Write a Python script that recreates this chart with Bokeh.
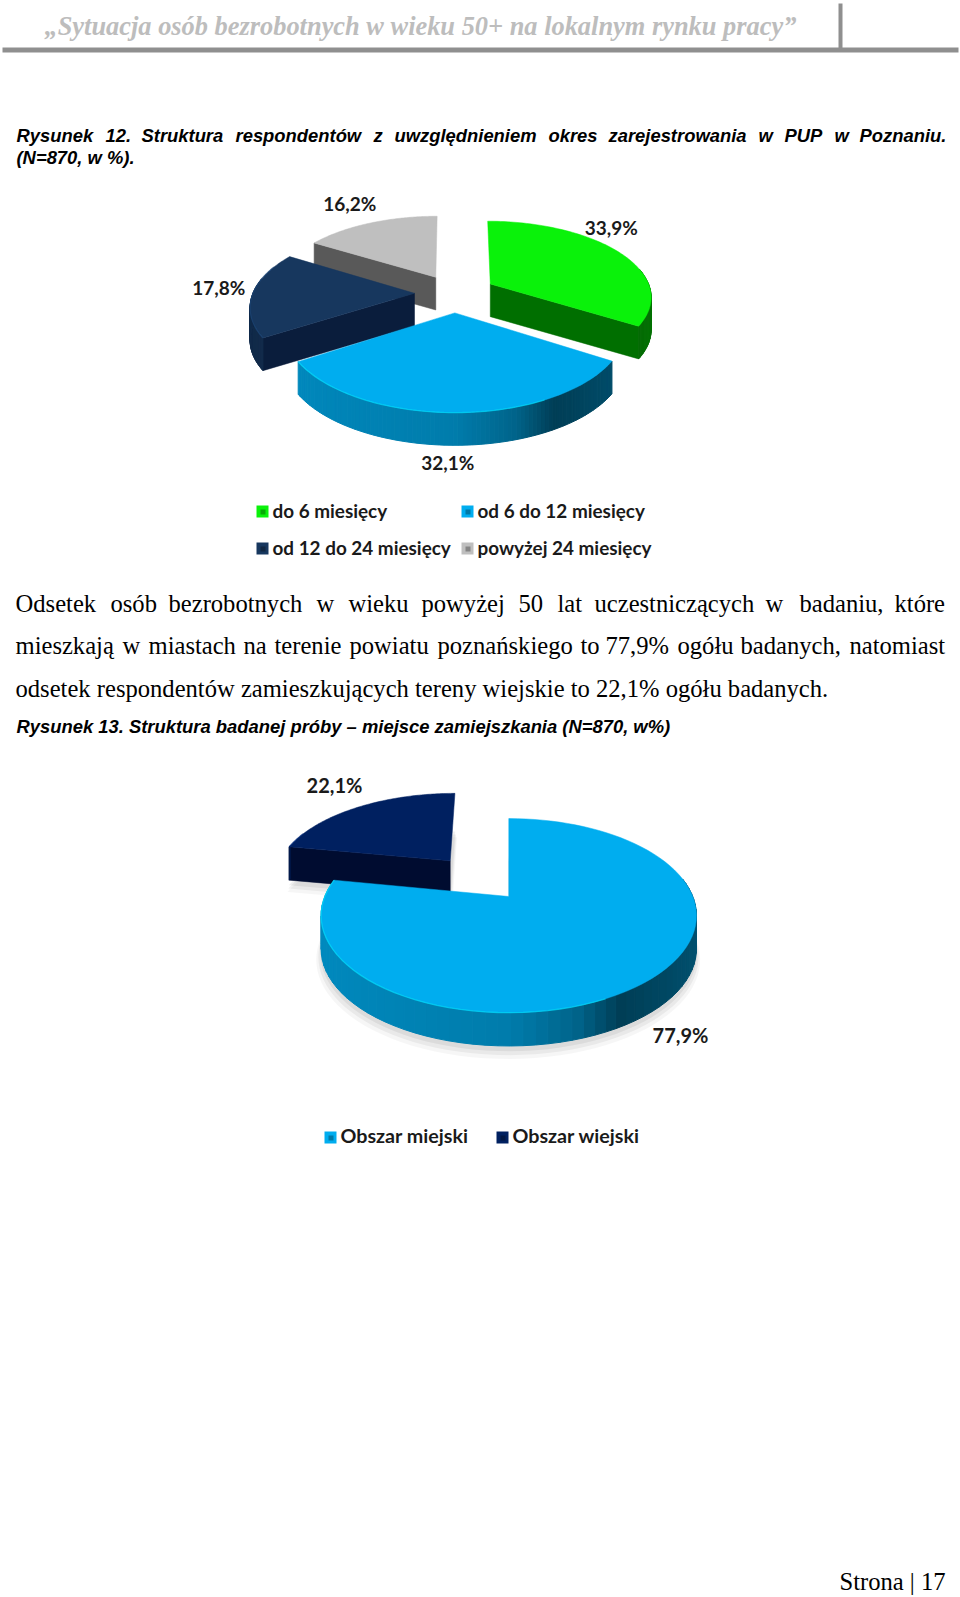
import numpy as np
from bokeh.plotting import figure
from bokeh.embed import file_html
from bokeh.resources import INLINE
from bokeh.core.properties import value

# ---------- data ----------
chart1_labels = ["do 6 miesięcy", "od 6 do 12 miesięcy", "od 12 do 24 miesięcy", "powyżej 24 miesięcy"]
chart1_values = [33.9, 32.1, 17.8, 16.2]
chart1_texts = ["33,9%", "32,1%", "17,8%", "16,2%"]
chart2_labels = ["Obszar miejski", "Obszar wiejski"]
chart2_values = [77.9, 22.1]
chart2_texts = ["77,9%", "22,1%"]

header_text = "„Sytuacja osób bezrobotnych w wieku 50+ na lokalnym rynku pracy”"
caption1_words = ["Rysunek", "12.", "Struktura", "respondentów", "z", "uwzględnieniem", "okres",
                  "zarejestrowania", "w", "PUP", "w", "Poznaniu."]
caption1_line2 = "(N=870, w %)."
body1_words = ["Odsetek", "osób", "bezrobotnych", "w", "wieku", "powyżej", "50", "lat",
               "uczestniczących", "w", "badaniu,", "które"]
body2_words = ["mieszkają", "w", "miastach", "na", "terenie", "powiatu", "poznańskiego", "to",
               "77,9%", "ogółu", "badanych,", "natomiast"]
body3_text = "odsetek respondentów zamieszkujących tereny wiejskie to 22,1% ogółu badanych."
caption2_text = "Rysunek 13. Struktura badanej próby – miejsce zamiejszkania (N=870, w%)"
footer_text = "Strona | 17"

# ---------- layout / style (page pixels) ----------
caption1_x = [16, 105, 141, 235, 373, 394, 548, 608, 758, 784, 834, 859]
body1_x = [15, 110, 168, 316, 348, 421, 518, 557, 594, 765, 799, 894]
body2_x = [15, 122, 148, 243, 274, 349, 437, 580, 605, 677, 740, 849]

BLUE = "#00adef"
style1 = dict(cx=454.2, cy=292.7, R=161.5, k=0.47, p=0.165, depth=32.7)
explode1 = [41.5, 40.2, 40.2, 40.2]
tops1 = ["#0af20a", BLUE, "#17375e", "#bfbfbf"]
faces1 = ["#006f00", "#005a85", "#0a1d3c", "#595959"]
order1 = [3, 0, 2, 1]

style2 = dict(cx=508.3, cy=896.0, R=184.0, k=0.507, p=0.197, depth=33.3)
explode2 = [0.0, 99.0]
tops2 = [BLUE, "#002060"]
faces2 = ["#005a85", "#000c30"]
order2 = [1, 0]

RIM_U = [-1.0, 0.0, 0.30, 0.50, 1.0]
RIM_F = [0.80, 0.72, 0.58, 0.36, 0.48]


def shade(hex_color, f):
    r, g, b = (int(hex_color[i:i + 2], 16) for i in (1, 3, 5))
    return "#%02x%02x%02x" % (int(min(r * f, 255)), int(min(g * f, 255)), int(min(b * f, 255)))


def persp(V, st):
    return 1.0 / (1.0 - st["p"] * V / st["R"])


def project(X, V, st, down=0.0):
    s = persp(V, st)
    return st["cx"] + X * s, st["cy"] + V * st["k"] * s + down


def warp(dx, V, ex, ev, st):
    # half of the lean that a burst-out slice would get from the perspective
    return ex * np.sqrt(persp(ev, st) / persp(V, st)) + dx


p = figure(width=960, height=1597, x_range=(0, 960), y_range=(1597, 0),
           output_backend="svg", toolbar_location=None, min_border=0,
           outline_line_color=None, x_axis_location=None, y_axis_location=None)
p.xgrid.visible = False
p.ygrid.visible = False
p.styles = {"position": "absolute", "left": "0px", "top": "0px"}


def draw_pie(values, explode, tops, faces, order, st, shadow=False):
    total = float(sum(values))
    edges = np.concatenate([[0.0], np.cumsum(values)]) / total * 2 * np.pi
    geo = []
    for i in range(len(values)):
        a0, a1 = edges[i], edges[i + 1]
        mid = (a0 + a1) / 2
        ex, ev = explode[i] * np.sin(mid), -explode[i] * np.cos(mid)
        a = np.linspace(a0, a1, 90)
        V = ev - st["R"] * np.cos(a)
        X = warp(st["R"] * np.sin(a), V, ex, ev, st)
        geo.append((a0, a1, a, X, V, ex, ev))
    if shadow:
        for grow, alpha in [(7, 0.035), (4, 0.05), (1, 0.06)]:
            for i in order:
                a0, a1, a, X, V, ex, ev = geo[i]
                xs, ys = project(np.r_[ex, X], np.r_[ev, V], st, st["depth"] + grow)
                ys = ys + 4
                cx, cy = xs.mean(), ys.mean()
                f = 1 + grow / st["R"] * 0.6
                p.patch(cx + (xs - cx) * f, cy + (ys - cy) * f, color="black", alpha=alpha, line_color=None)
    for i in order:
        a0, a1, a, X, V, ex, ev = geo[i]
        # radial faces that look towards the viewer
        for ang, xr, vr, vis in [(a0, X[0], V[0], -np.sin(a0) > 1e-6), (a1, X[-1], V[-1], np.sin(a1) > 1e-6)]:
            if vis:
                x1, y1 = project(np.array([ex, xr]), np.array([ev, vr]), st)
                x2, y2 = project(np.array([xr, ex]), np.array([vr, ev]), st, st["depth"])
                p.patch(np.r_[x1, x2], np.r_[y1, y2], color=faces[i], line_color=faces[i], line_width=0.5)
        # outer rim, shaded left to right
        xs_list, ys_list, cols = [], [], []
        for j in range(len(a) - 1):
            if np.cos((a[j] + a[j + 1]) / 2) > 0.2:
                continue
            x1, y1 = project(X[j:j + 2], V[j:j + 2], st)
            x2, y2 = project(X[j:j + 2][::-1], V[j:j + 2][::-1], st, st["depth"])
            xs_list.append(list(np.r_[x1, x2]))
            ys_list.append(list(np.r_[y1, y2]))
            cols.append(shade(tops[i], float(np.interp(np.sin((a[j] + a[j + 1]) / 2), RIM_U, RIM_F))))
        if xs_list:
            p.patches(xs_list, ys_list, fill_color=cols, line_color=cols, line_width=1.0)
        # top surface
        xt, yt = project(np.r_[ex, X], np.r_[ev, V], st)
        p.patch(xt, yt, color=tops[i], line_color=tops[i], line_width=0.5)
        # light edge on the front-left of the rim
        front = (a > np.pi * 0.85) & (a < np.pi * 1.62)
        if front.any():
            xh, yh = project(X[front], V[front], st)
            p.line(xh, yh, line_color=shade(tops[i], 1.35), line_width=1.3, line_alpha=0.55)


draw_pie(chart1_values, explode1, tops1, faces1, order1, style1)
draw_pie(chart2_values, explode2, tops2, faces2, order2, style2, shadow=True)


def txt(x, y, s, font, size, style="normal", color="black", align="left", baseline="alphabetic"):
    xs = x if isinstance(x, list) else [x]
    ss = s if isinstance(s, list) else [s]
    ys = [y] * len(xs)
    p.text(xs, ys, text=ss, text_font=value(font), text_font_size=value(size),
           text_font_style=style, text_color=color, text_align=align, text_baseline=baseline)


# header
txt(44, 25, header_text, "Liberation Serif", "26.4px", "bold italic", "#bdbdbd")
p.quad(left=[2], right=[958], top=[47], bottom=[52], color="#8f8f8f", line_color=None)
p.quad(left=[838], right=[842], top=[3], bottom=[48], color="#8f8f8f", line_color=None)

# captions and body
CAP = "Liberation Sans"
BODY = "Liberation Serif"
CAP_SIZE = "18.4px"
BODY_SIZE = "24.6px"
txt(caption1_x, 135, caption1_words, CAP, CAP_SIZE, "bold italic")
txt(16, 157, caption1_line2, CAP, CAP_SIZE, "bold italic")
txt(body1_x, 603, body1_words, BODY, BODY_SIZE)
txt(body2_x, 645, body2_words, BODY, BODY_SIZE)
txt(15, 688, body3_text, BODY, BODY_SIZE)
txt(16, 726, caption2_text, CAP, CAP_SIZE, "bold italic")
txt(945, 1581, footer_text, BODY, BODY_SIZE, align="right")

# chart 1 labels
LBL = "Lato"
lx1 = [610.7, 447.3, 218.3, 349.3]
ly1 = [227, 462.3, 287, 203]
for x, y, s in zip(lx1, ly1, chart1_texts):
    txt(x, y, s, LBL, "19px", "bold", "#1a1a1a", "center", "middle")

# chart 1 legend
lg1x = [256, 461, 256, 461]
lg1y = [517, 517, 554, 554]
for x, y, s, c in zip(lg1x, lg1y, chart1_labels, tops1):
    p.quad(left=[x], right=[x + 12], top=[y - 12], bottom=[y], color=c, line_color=None)
    p.quad(left=[x + 4], right=[x + 9], top=[y - 8], bottom=[y - 3], color=shade(c, 0.7), line_color=None)
    txt(x + 16, y - 7, s, LBL, "18.9px", "bold", "#1a1a1a")

# chart 2 labels
lx2 = [680, 334]
ly2 = [1034, 784.7]
for x, y, s in zip(lx2, ly2, chart2_texts):
    txt(x, y, s, LBL, "20px", "bold", "#1a1a1a", "center", "middle")

# chart 2 legend
lg2x = [324, 496]
for x, s, c in zip(lg2x, chart2_labels, tops2):
    p.quad(left=[x], right=[x + 12], top=[1131], bottom=[1143], color=c, line_color=None)
    p.quad(left=[x + 4], right=[x + 9], top=[1135], bottom=[1140], color=shade(c, 0.7), line_color=None)
    txt(x + 16, 1135, s, LBL, "19.7px", "bold", "#1a1a1a")

open("out.html", "w").write(file_html(p, INLINE))
